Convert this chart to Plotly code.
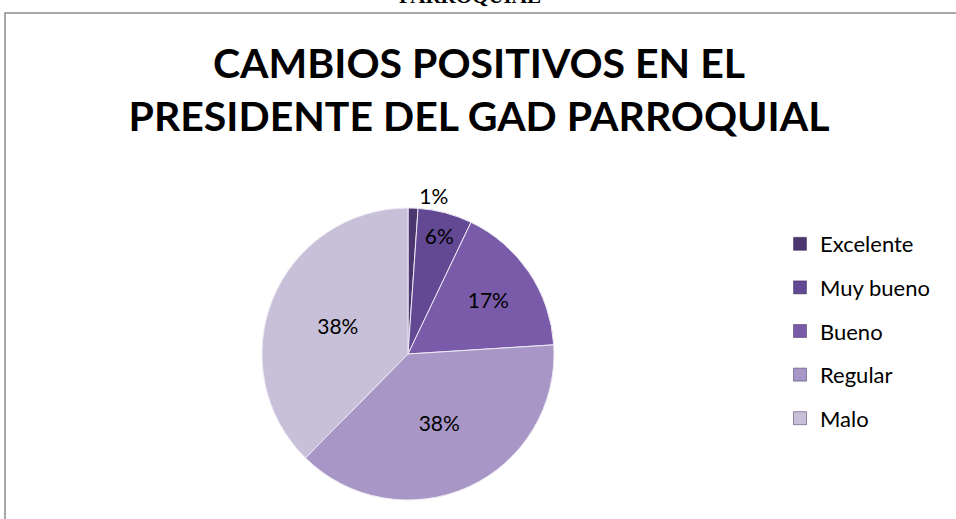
import plotly.graph_objects as go

labels = ["Excelente", "Muy bueno", "Bueno", "Regular", "Malo"]
values = [1.1, 6.0, 16.9, 38.4, 37.6]
colors = ["#4b3670", "#634894", "#7a5ba9", "#a796c6", "#c8c0d9"]
text_positions = ["outside", "inside", "inside", "inside", "inside"]

W, H = 956, 519
cx, cy, r = 408, 354, 146
FONT = "Lato, Open Sans, sans-serif"

fig = go.Figure()
fig.add_trace(go.Pie(
    labels=labels,
    values=values,
    sort=False,
    direction="clockwise",
    rotation=0,
    marker=dict(colors=colors, line=dict(color="#ede9f3", width=1)),
    textinfo="percent",
    texttemplate="%{percent:.0%}",
    textposition=text_positions,
    insidetextorientation="horizontal",
    textfont=dict(family=FONT, size=21, color="#000000"),
    domain=dict(x=[(cx - r) / W, (cx + r) / W], y=[1 - (cy + r) / H, 1 - (cy - r) / H]),
    hoverinfo="label+percent",
    showlegend=False,
))

# legend entries (one per category, spaced like the reference)
for lab, col in zip(labels, colors):
    fig.add_trace(go.Scatter(
        x=[None], y=[None], mode="markers", name=lab, legendgroup=lab,
        marker=dict(symbol="square", size=13, color=col, line=dict(color="#3a2a55", width=0.5)),
        showlegend=True, hoverinfo="skip",
    ))

fig.update_layout(
    width=W, height=H,
    margin=dict(l=0, r=0, t=0, b=0),
    paper_bgcolor="#ffffff",
    plot_bgcolor="#ffffff",
    font=dict(family=FONT, color="#000000"),
    xaxis=dict(visible=False),
    yaxis=dict(visible=False),
    title=dict(
        text="<b>CAMBIOS POSITIVOS EN EL<br>PRESIDENTE DEL GAD PARROQUIAL</b>",
        x=479 / W, xanchor="center",
        y=1 - 78 / H, yanchor="top",
        font=dict(family=FONT, size=41, color="#000000"),
    ),
    legend=dict(
        x=780 / W, xanchor="left",
        y=1 - 223 / H, yanchor="top",
        font=dict(family=FONT, size=22, color="#000000"),
        bgcolor="rgba(0,0,0,0)",
        itemwidth=30,
        tracegroupgap=12,
        itemclick=False, itemdoubleclick=False,
    ),
    showlegend=True,
    shapes=[dict(
        type="rect", xref="paper", yref="paper",
        x0=5 / W, x1=1.01, y0=-0.05, y1=1 - 13 / H,
        line=dict(color="#8c8c8c", width=1.5), fillcolor="rgba(0,0,0,0)", layer="below",
    )],
    annotations=[dict(
        text="<b>PARROQUIAL</b>", xref="paper", yref="paper",
        x=470 / W, xanchor="center", y=1 - 10 / H, yanchor="bottom",
        showarrow=False,
        font=dict(family="Liberation Serif, Times New Roman, serif", size=21, color="#000000"),
    )],
)

fig.write_html("out.html")
